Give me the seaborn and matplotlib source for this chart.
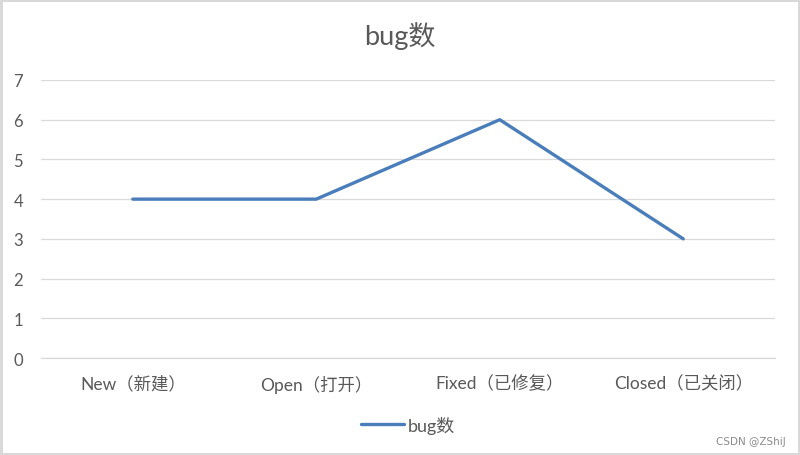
import pandas as pd
import matplotlib
matplotlib.use('Agg')
import matplotlib.pyplot as plt
import seaborn as sns

# datos del gráfico
categorias = ['New（新建）', 'Open（打开）', 'Fixed（已修复）', 'Closed（已关闭）']
bugs = [4, 4, 6, 3]
serie = 'bug数'

df = pd.DataFrame({'estado': categorias, 'bugs': bugs})

sns.set_theme(style='white')
plt.rcParams['font.family'] = ['Lato', 'Noto Sans CJK SC', 'DejaVu Sans']

gris = '#595959'
fig = plt.figure(figsize=(8, 4.56), dpi=100, facecolor='white', edgecolor='#d9d9d9', linewidth=2.5)
ax = fig.add_axes([0.05125, 0.2127, 0.9175, 0.6097])

sns.lineplot(data=df, x='estado', y='bugs', sort=False, color='#4a7ebb', linewidth=2.4,
             label=serie, ax=ax)

ax.set_xlim(-0.5, 3.5)
ax.set_ylim(0, 7)
ax.set_yticks(range(0, 8))
ax.yaxis.grid(True, color='#d9d9d9', linewidth=0.9)
ax.xaxis.grid(False)
for s in ['top', 'right', 'left']:
    ax.spines[s].set_visible(False)
ax.spines['bottom'].set_color('#d9d9d9')
ax.spines['bottom'].set_linewidth(0.9)
ax.tick_params(axis='y', length=0, pad=13, labelsize=12, labelcolor=gris)
ax.tick_params(axis='x', length=0, pad=12, labelsize=12.5, labelcolor=gris)
ax.set_xlabel('')
ax.set_ylabel('')
ax.set_facecolor('white')

fig.text(0.5, 0.92, serie, ha='center', va='center', fontsize=19.5, color=gris)

leg = ax.legend(loc='center', bbox_to_anchor=(0.5, -0.24), frameon=False,
                fontsize=13, handlelength=2.4, handletextpad=0.2)
for t in leg.get_texts():
    t.set_color(gris)

fig.text(0.982, 0.03, 'CSDN @ZShiJ', ha='right', va='center', fontsize=7.5,
         color='#8c8c8c', family=['DejaVu Sans'])

plt.savefig('out.png', dpi=100)
